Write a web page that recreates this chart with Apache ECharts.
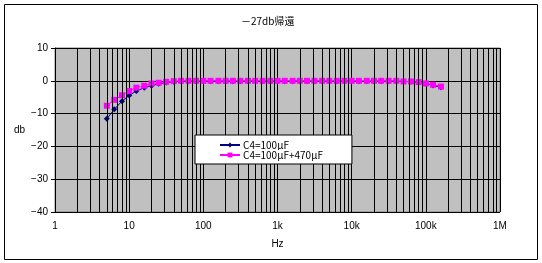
<!DOCTYPE html>
<html>
<head>
<meta charset="utf-8">
<script src="https://cdn.jsdelivr.net/npm/echarts@6/dist/echarts.min.js"></script>
<style>html,body{margin:0;padding:0;background:#fff}#c{width:542px;height:263px}</style>
</head>
<body>
<div id="c"></div>
<script>
var freqs = [5,6.3,8,10,12.5,16,20,25,31.5,40,50,63,80,100,125,160,200,250,315,400,500,630,800,1000,1250,1600,2000,2500,3150,4000,5000,6300,8000,10000,12500,16000,20000,25000,31500,40000,50000,63000,80000,100000,125000,160000];
var c4_100 = [-11.6,-8.7,-6.2,-4.5,-3.1,-2.1,-1.5,-0.9,-0.5,-0.3,-0.1,-0.1,-0.1,-0.1,-0.1,-0.1,-0.1,-0.1,-0.1,-0.1,-0.1,-0.1,-0.1,-0.1,-0.1,-0.1,-0.1,-0.1,-0.1,-0.1,-0.1,-0.1,-0.1,-0.1,-0.1,-0.1,-0.1,-0.1,-0.1,-0.1,-0.2,-0.3,-0.5,-0.9,-1.4,-2.0];
var c4_100_470 = [-7.6,-5.8,-4.4,-3.1,-2.1,-1.5,-0.8,-0.6,-0.3,-0.1,0,0,0,0,0,0,0,0,0,0,0,0,0,0,0,0,0,0,0,0,0,0,0,0,0,0,0,0,0,0,-0.2,-0.2,-0.4,-0.8,-1.2,-1.75];
var minorGrid = [2,3,4,5,6,7,8,9,20,30,40,50,60,70,80,90,200,300,400,500,600,700,800,900,2000,3000,4000,5000,6000,7000,8000,9000,20000,30000,40000,50000,60000,70000,80000,90000,200000,300000,400000,500000,600000,700000,800000,900000];
var xTickLabels = {1:'1',10:'10',100:'100',1000:'1k',10000:'10k',100000:'100k',1000000:'1M'};
var seriesNames = ['C4=100μF','C4=100μF+470μF'];

function pairs(xs, ys){ return xs.map(function(x,i){ return [x, ys[i]]; }); }

var chart = echarts.init(document.getElementById('c'), null, {renderer:'canvas'});
var fontFam = 'Liberation Sans, Arial, sans-serif';
chart.setOption({
  animation: false,
  backgroundColor: '#fff',
  title: {
    text: '－27db帰還', left: 236, top: 11,
    textStyle: {fontSize: 10, fontWeight: 'normal', color: '#000', fontFamily: 'Noto Sans CJK JP, sans-serif'}
  },
  graphic: [{
    type: 'rect', shape: {x: 4.5, y: 4.5, width: 533, height: 255},
    style: {fill: null, stroke: '#000', lineWidth: 1}, silent: true, z: -10
  }],
  grid: {left: 55, right: 42, top: 48, bottom: 51, show: true, backgroundColor: '#c0c0c0', borderColor: '#808080', borderWidth: 1},
  legend: {
    orient: 'vertical', left: 195, top: 135, z: 20,
    backgroundColor: '#fff', borderColor: '#000', borderWidth: 1,
    padding: [5, 29, 4, 24], itemGap: 0, itemWidth: 20, itemHeight: 6,
    textStyle: {fontSize: 10, color: '#000', fontFamily: 'Noto Sans CJK JP, sans-serif', padding: [0,0,0,-2], backgroundColor: '#fff'},
    data: seriesNames
  },
  xAxis: {
    type: 'log', logBase: 10, min: 1, max: 1000000,
    name: 'Hz', nameLocation: 'middle', nameGap: 27,
    nameTextStyle: {fontSize: 10, color: '#000', fontFamily: fontFam},
    axisLine: {show: true, lineStyle: {color: '#000', width: 1}},
    axisTick: {show: false},
    axisLabel: {margin: 9, fontSize: 10, color: '#000', fontFamily: fontFam, formatter: function(v){ return xTickLabels[Math.round(v)] || ''; }},
    splitLine: {show: true, lineStyle: {color: '#000', width: 1}}
  },
  yAxis: {
    type: 'value', min: -40, max: 10, interval: 10,
    name: 'db', nameLocation: 'middle', nameRotate: 0, nameGap: 27,
    nameTextStyle: {fontSize: 10, color: '#000', fontFamily: fontFam},
    axisLine: {show: true, lineStyle: {color: '#000', width: 1}},
    axisTick: {show: true, length: 4, inside: false, lineStyle: {color: '#000'}},
    axisLabel: {margin: 7, fontSize: 10, color: '#000', fontFamily: fontFam, formatter: function(v){ return v < 0 ? '−' + Math.abs(v) : String(v); }},
    splitLine: {show: true, lineStyle: {color: '#000', width: 1}}
  },
  series: [
    {
      type: 'line', name: '_minor', data: [], z: 1, silent: true,
      markLine: {
        silent: true, symbol: ['none','none'], animation: false,
        label: {show: false},
        lineStyle: {color: '#000', width: 1, type: 'solid'},
        emphasis: {disabled: true},
        data: minorGrid.map(function(v){ return {xAxis: v}; })
      }
    },
    {
      type: 'line', name: seriesNames[0], data: pairs(freqs, c4_100), z: 3,
      symbol: 'diamond', symbolSize: 6, showAllSymbol: true,
      itemStyle: {color: '#000080'}, lineStyle: {color: '#000080', width: 1}
    },
    {
      type: 'line', name: seriesNames[1], data: pairs(freqs, c4_100_470), z: 4,
      symbol: 'rect', symbolSize: 6, showAllSymbol: true,
      itemStyle: {color: '#ff00ff'}, lineStyle: {color: '#ff00ff', width: 1}
    }
  ]
});
</script>
</body>
</html>
